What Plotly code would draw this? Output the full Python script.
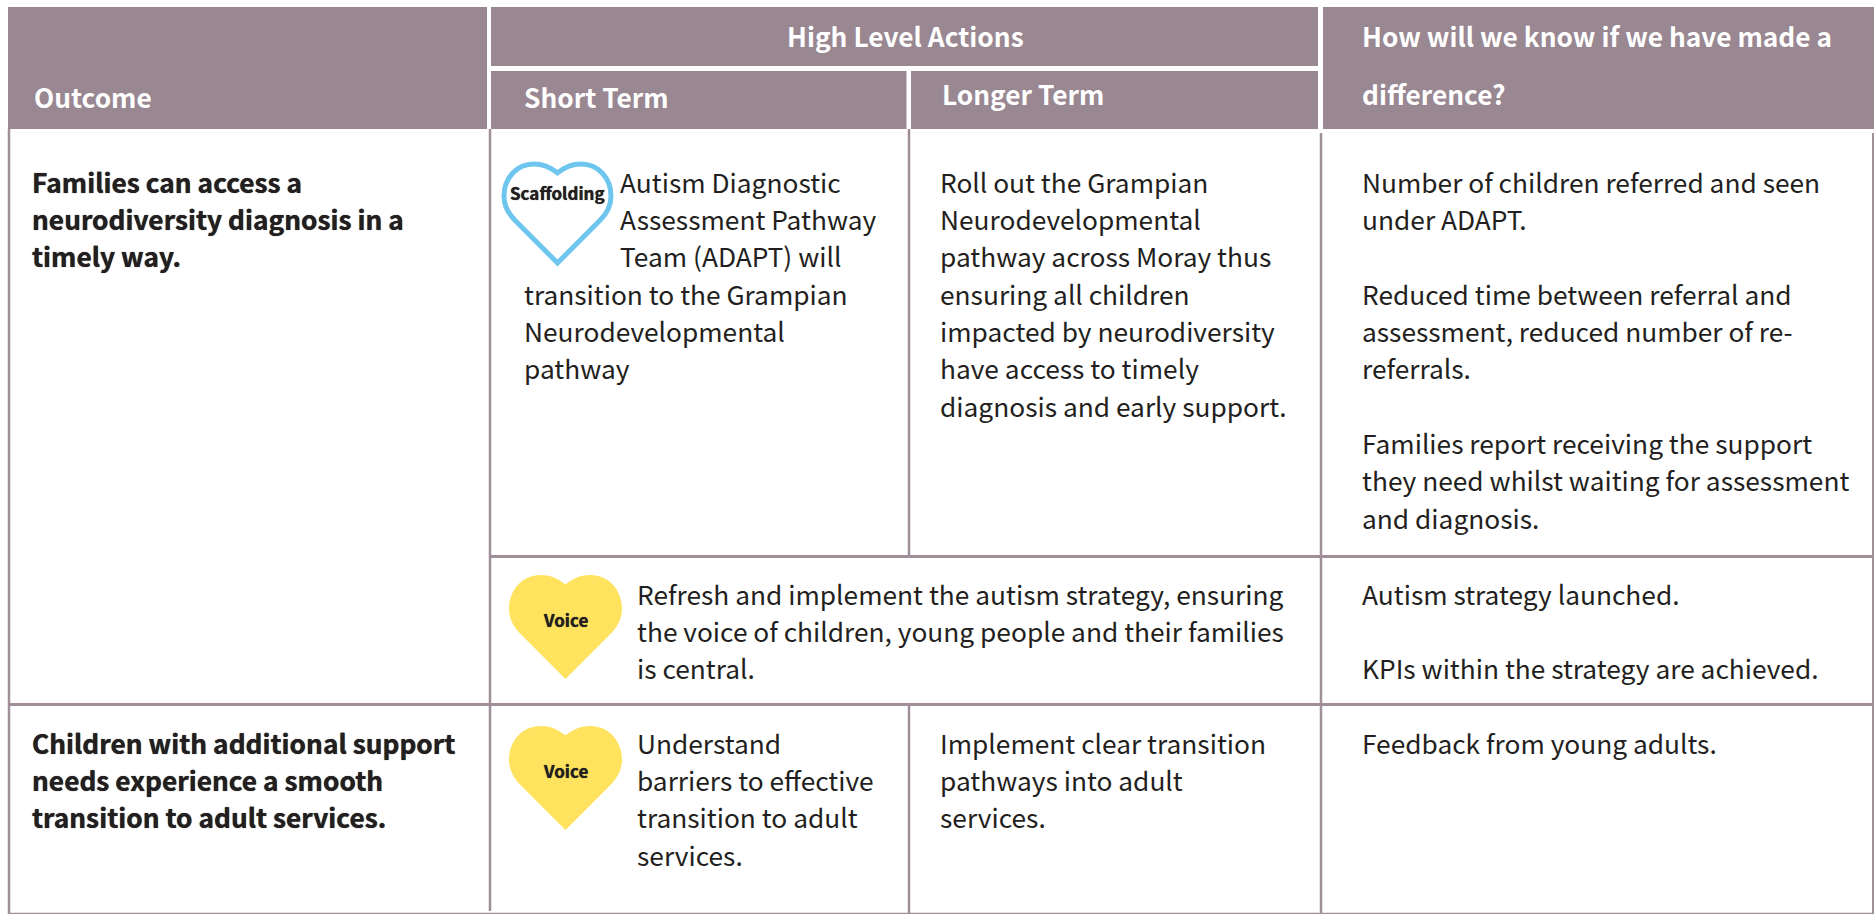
import plotly.graph_objects as go

FONT = "Noto Sans CJK JP"
HEAD = "#998792"
RULE = "#A08F99"
INK = "#231F20"
YELLOW = "#FFE35F"
BLUE = "#6EC6EE"

# Table content
header_texts = ["Outcome", "High Level Actions", "Short Term", "Longer Term",
                "How will we know if we have made a", "difference?"]
outcome_1 = ["Families can access a", "neurodiversity diagnosis in a", "timely way."]
outcome_2 = ["Children with additional support", "needs experience a smooth",
             "transition to adult services."]
short_1_wrapped = ["Autism Diagnostic", "Assessment Pathway", "Team (ADAPT) will"]
short_1_full = ["transition to the Grampian", "Neurodevelopmental", "pathway"]
longer_1 = ["Roll out the Grampian", "Neurodevelopmental", "pathway across Moray thus",
            "ensuring all children", "impacted by neurodiversity", "have access to timely",
            "diagnosis and early support."]
measure_1 = ["Number of children referred and seen", "under ADAPT.", "",
             "Reduced time between referral and", "assessment, reduced number of re-",
             "referrals.", "", "Families report receiving the support",
             "they need whilst waiting for assessment", "and diagnosis."]
voice_row = ["Refresh and implement the autism strategy, ensuring",
             "the voice of children, young people and their families", "is central."]
measure_2 = ["Autism strategy launched.", "", "KPIs within the strategy are achieved."]
short_2 = ["Understand", "barriers to effective", "transition to adult", "services."]
longer_2 = ["Implement clear transition", "pathways into adult", "services."]
measure_3 = ["Feedback from young adults."]
heart_labels = ["Scaffolding", "Voice", "Voice"]

PITCH = 37.35
BODY = 26.3
anns = []


def txt(x, y, s, size=BODY, weight=400, color=INK, anchor="left", heavy=False):
    font = dict(family=FONT, size=size, color=color, weight=weight)
    if heavy:
        font["shadow"] = f"0 0 0.8px {color}"
    anns.append(dict(x=x, y=y, xref="x", yref="y", text=s,
                     showarrow=False, xanchor=anchor, yanchor="middle", align=anchor,
                     font=font))


def block(x, y, lines, weight=400, heavy=False):
    for i, s in enumerate(lines):
        if s:
            txt(x, y + i * PITCH, s, weight=weight, heavy=heavy)


shapes = []


def rect(x0, y0, x1, y1, color=HEAD):
    shapes.append(dict(type="rect", x0=x0, y0=y0, x1=x1, y1=y1, xref="x", yref="y",
                       fillcolor=color, line_width=0, layer="below"))


def line(x0, y0, x1, y1, w=2.5, color=RULE):
    shapes.append(dict(type="line", x0=x0, y0=y0, x1=x1, y1=y1, xref="x", yref="y",
                       line=dict(color=color, width=w), layer="below"))


def heart(x0, y0, x1, y1, fill, stroke=None, w=0):
    def p(fx, fy):
        return f"{x0 + fx * (x1 - x0):.2f},{y0 + fy * (y1 - y0):.2f}"
    path = ("M" + p(.5, .09) + " C" + p(.43, .03) + " " + p(.36, 0) + " " + p(.28, 0)
            + " C" + p(.12, 0) + " " + p(0, .14) + " " + p(0, .325)
            + " C" + p(0, .43) + " " + p(.05, .51) + " " + p(.10, .565)
            + " L" + p(.5, 1) + " L" + p(.90, .565)
            + " C" + p(.95, .51) + " " + p(1, .43) + " " + p(1, .325)
            + " C" + p(1, .14) + " " + p(.88, 0) + " " + p(.72, 0)
            + " C" + p(.64, 0) + " " + p(.57, .03) + " " + p(.5, .09) + " Z")
    shapes.append(dict(type="path", path=path, xref="x", yref="y", fillcolor=fill,
                       line=dict(color=stroke or fill, width=w), layer="above"))


# Header blocks
rect(8, 7, 487, 129)
rect(491, 7, 1318, 66)
rect(491, 71, 906.5, 129)
rect(911, 71, 1318, 129)
rect(1323, 7, 1874, 129)

# Grid rules
line(9, 129, 9, 914)
line(490, 129, 490, 911)
line(909, 129, 909, 556)
line(909, 704, 909, 914)
line(1321, 133, 1321, 914)
line(1873, 133, 1873, 914, w=2)
line(490, 556.5, 1874, 556.5, w=3)
line(8, 704.5, 1874, 704.5, w=3)
line(8, 913.5, 1874, 913.5, w=1.5)

# Hearts
heart(504, 164, 611, 263, "#FFFFFF", BLUE, 5)
heart(509, 575, 622, 679, YELLOW)
heart(509, 726, 622, 830, YELLOW)
txt(557.5, 192, heart_labels[0], size=17, weight=700, anchor="center", heavy=True)
txt(565.5, 619.5, heart_labels[1], size=17, weight=700, anchor="center", heavy=True)
txt(565.5, 770.5, heart_labels[2], size=17, weight=700, anchor="center", heavy=True)

# Header text
WHITE = "#FFFFFF"
txt(31.5, 96, header_texts[0], weight=700, color=WHITE)
txt(905, 35.5, header_texts[1], weight=700, color=WHITE, anchor="center")
txt(521.5, 96, header_texts[2], weight=700, color=WHITE)
txt(940, 93, header_texts[3], weight=700, color=WHITE)
txt(1360, 35.5, header_texts[4], weight=700, color=WHITE)
txt(1360, 93, header_texts[5], weight=700, color=WHITE)

# Body text
TOP = 181
LOW = 593
block(29.5, TOP, outcome_1, weight=700, heavy=True)
block(617.5, TOP, short_1_wrapped)
block(521.5, TOP + 3 * PITCH, short_1_full)
block(938, TOP, longer_1)
block(1360, TOP, measure_1)
block(634.5, LOW, voice_row)
block(1360, LOW, measure_2)
block(29.5, 742, outcome_2, weight=700, heavy=True)
block(634.5, 742, short_2)
block(938, 742, longer_2)
block(1360, 742, measure_3)

fig = go.Figure()
fig.update_layout(
    width=1874, height=914, margin=dict(l=0, r=0, t=0, b=0),
    paper_bgcolor="#FFFFFF", plot_bgcolor="#FFFFFF", showlegend=False,
    xaxis=dict(range=[0, 1874], visible=False, fixedrange=True),
    yaxis=dict(range=[914, 0], visible=False, fixedrange=True),
    shapes=shapes, annotations=anns,
)
fig.write_html("out.html", config=dict(displayModeBar=False),
               post_script="document.body.style.margin='0';document.body.style.overflow='hidden';")
